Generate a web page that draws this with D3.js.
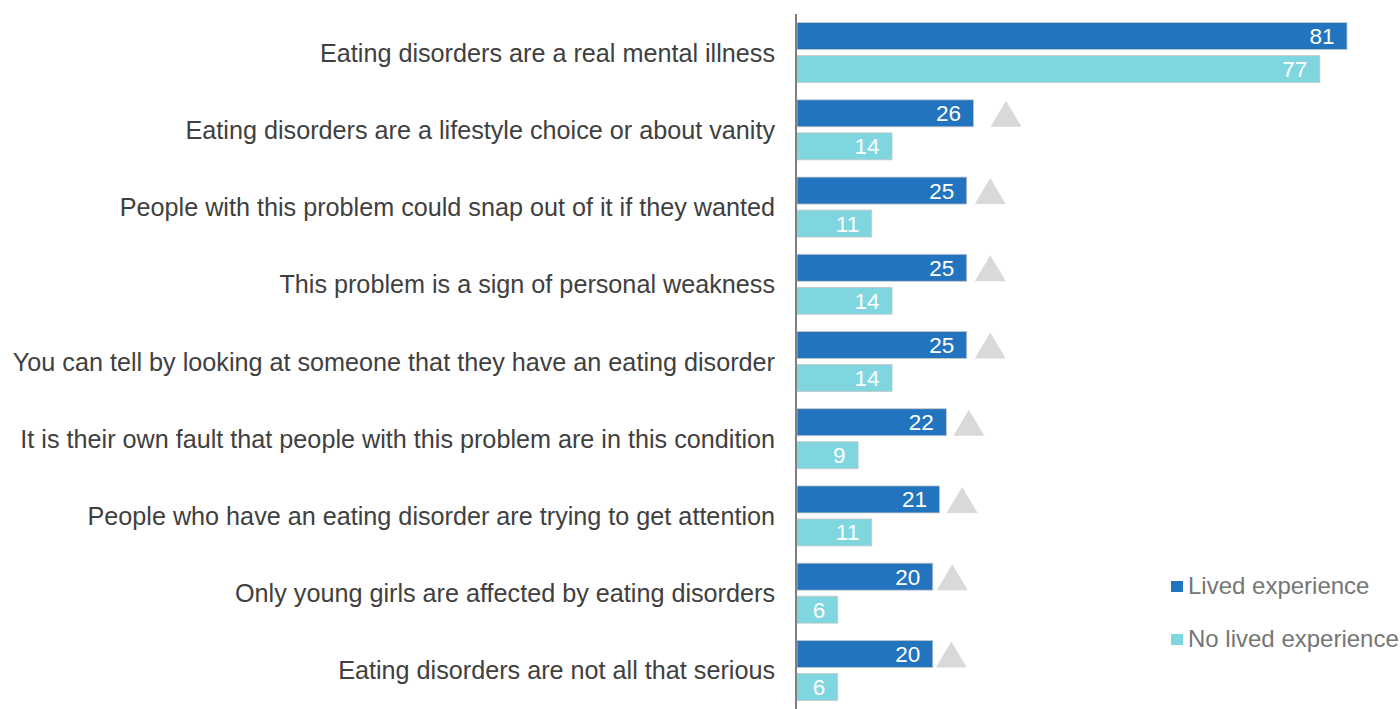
<!DOCTYPE html>
<html>
<head>
<meta charset="utf-8">
<script src="https://cdn.jsdelivr.net/npm/d3@7"></script>
<style>
  html, body { margin: 0; padding: 0; background: #fff; }
  svg { display: block; }
</style>
</head>
<body>
<svg id="chart" width="1400" height="709"></svg>
<script>
// Attitude statements and the share agreeing (%), by group
const categories = [
  "Eating disorders are a real mental illness",
  "Eating disorders are a lifestyle choice or about vanity",
  "People with this problem could snap out of it if they wanted",
  "This problem is a sign of personal weakness",
  "You can tell by looking at someone that they have an eating disorder",
  "It is their own fault that people with this problem are in this condition",
  "People who have an eating disorder are trying to get attention",
  "Only young girls are affected by eating disorders",
  "Eating disorders are not all that serious"
];
const livedValues   = [81, 26, 25, 25, 25, 22, 21, 20, 20];
const noLivedValues = [77, 14, 11, 14, 14,  9, 11,  6,  6];
// statements where the lived-experience group differs significantly
const significant   = [false, true, true, true, true, true, true, true, true];
const seriesNames   = ["Lived experience", "No lived experience"];

const colors = { lived: "#2174bd", noLived: "#7fd6df", marker: "#d9d9d9" };
const markerGap = [0, 17, 8, 8, 8, 7, 7, 4, 3];

const svg = d3.select("#chart");
const axisX = 797;
const plotTop = 14, plotBottom = 709;

const x = d3.scaleLinear().domain([0, 81]).range([axisX, 1347]);
const y = d3.scaleBand().domain(categories).range([plotTop, plotBottom]).paddingInner(0).paddingOuter(0);

const barH = 27, barGap = 6;
const rowOffset = (y.bandwidth() - (2 * barH + barGap)) / 2;

const rows = svg.append("g").selectAll("g.row")
  .data(categories)
  .join("g")
  .attr("class", "row")
  .attr("transform", d => `translate(0,${y(d) + rowOffset})`);

// lived experience bars
rows.append("rect")
  .attr("x", axisX)
  .attr("y", 0)
  .attr("width", (d, i) => x(livedValues[i]) - axisX)
  .attr("height", barH)
  .attr("fill", colors.lived)
  .attr("stroke", "#c8c8c8")
  .attr("stroke-width", 0.8);

// no lived experience bars
rows.append("rect")
  .attr("x", axisX)
  .attr("y", barH + barGap)
  .attr("width", (d, i) => x(noLivedValues[i]) - axisX)
  .attr("height", barH)
  .attr("fill", colors.noLived)
  .attr("stroke", "#c8c8c8")
  .attr("stroke-width", 0.8);

const valueFont = "'Liberation Sans', Arial, sans-serif";

rows.append("text")
  .attr("x", (d, i) => x(livedValues[i]) - 12.5)
  .attr("y", barH / 2 + 8)
  .attr("text-anchor", "end")
  .attr("font-family", valueFont)
  .attr("font-size", 22.5)
  .attr("fill", "#fff")
  .text((d, i) => livedValues[i]);

rows.append("text")
  .attr("x", (d, i) => x(noLivedValues[i]) - 12.5)
  .attr("y", barH + barGap + barH / 2 + 8)
  .attr("text-anchor", "end")
  .attr("font-family", valueFont)
  .attr("font-size", 22.5)
  .attr("fill", "#fff")
  .text((d, i) => noLivedValues[i]);

// significance markers
rows.filter((d, i) => significant[i])
  .append("path")
  .attr("d", d => {
    const i = categories.indexOf(d);
    const x0 = x(livedValues[i]) + markerGap[i];
    const w = 31, h = 26;
    return `M${x0},${barH} L${x0 + w / 2},${barH - h} L${x0 + w},${barH} Z`;
  })
  .attr("fill", colors.marker);

// category labels
rows.append("text")
  .attr("x", 775)
  .attr("y", barH + barGap / 2 + 9)
  .attr("text-anchor", "end")
  .attr("font-family", valueFont)
  .attr("font-size", 25.2)
  .attr("fill", "#404040")
  .text(d => d);

// vertical axis line
svg.append("line")
  .attr("x1", axisX - 1).attr("x2", axisX - 1)
  .attr("y1", plotTop).attr("y2", plotBottom)
  .attr("stroke", "#7f7f7f")
  .attr("stroke-width", 2);

// legend
const legend = svg.append("g");
const legendItems = [
  { name: seriesNames[0], color: colors.lived, y: 586 },
  { name: seriesNames[1], color: colors.noLived, y: 639 }
];
legend.selectAll("rect")
  .data(legendItems)
  .join("rect")
  .attr("x", 1171)
  .attr("y", d => d.y - 5)
  .attr("width", 12)
  .attr("height", 11)
  .attr("fill", d => d.color);
legend.selectAll("text")
  .data(legendItems)
  .join("text")
  .attr("x", 1188)
  .attr("y", d => d.y + 8)
  .attr("font-family", valueFont)
  .attr("font-size", 24)
  .attr("fill", "#767676")
  .text(d => d.name);
</script>
</body>
</html>
